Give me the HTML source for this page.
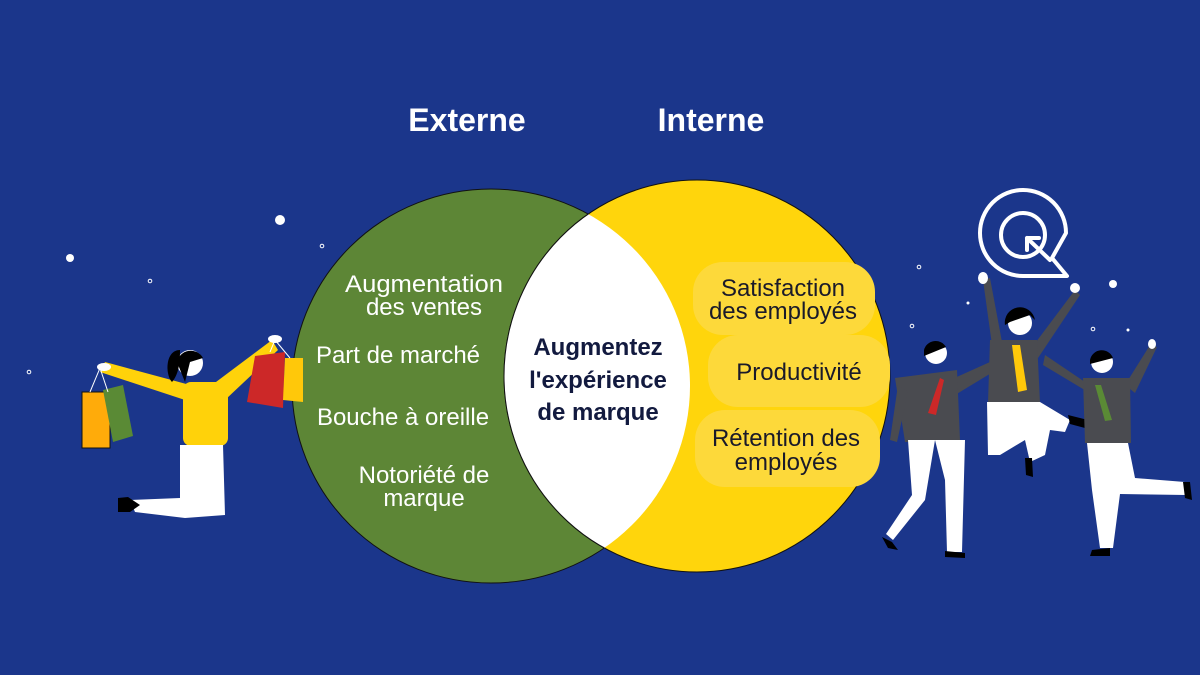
<!DOCTYPE html>
<html><head><meta charset="utf-8"><style>
html,body{margin:0;padding:0;background:#1b368b;}
svg{display:block}
text{font-family:"Liberation Sans",sans-serif}
</style></head><body>
<svg width="1200" height="675" viewBox="0 0 1200 675" xmlns="http://www.w3.org/2000/svg">
<rect width="1200" height="675" fill="#1b368b"/>
<defs>
<clipPath id="g"><ellipse cx="491" cy="386" rx="199" ry="197"/></clipPath>
</defs>
<ellipse cx="491" cy="386" rx="199" ry="197" fill="#5d8636" stroke="#111" stroke-width="1"/>
<ellipse cx="697" cy="376" rx="193" ry="196" fill="#ffd50c" stroke="#111" stroke-width="1"/>
<ellipse cx="697" cy="376" rx="193" ry="196" fill="#fff" stroke="#111" stroke-width="1" clip-path="url(#g)"/>
<!-- pills -->
<rect x="693" y="262" width="182" height="73" rx="30" fill="#fdd93a"/>
<rect x="708" y="335" width="182" height="72" rx="30" fill="#fdd93a"/>
<rect x="695" y="410" width="185" height="77" rx="30" fill="#fdd93a"/>
<!-- titles -->
<text x="467" y="131" font-size="32" font-weight="bold" fill="#fff" text-anchor="middle">Externe</text>
<text x="711" y="131" font-size="32" font-weight="bold" fill="#fff" text-anchor="middle">Interne</text>
<g font-size="24" fill="#fff" text-anchor="middle" transform="translate(0,0)">
<text x="424" y="292" textLength="158" lengthAdjust="spacingAndGlyphs">Augmentation</text>
<text x="424" y="315">des ventes</text>
<text x="398" y="363">Part de marché</text>
<text x="403" y="425">Bouche à oreille</text>
<text x="424" y="483">Notoriété de</text>
<text x="424" y="506">marque</text>
</g>
<g font-size="24" font-weight="bold" fill="#121a3f" text-anchor="middle">
<text x="598" y="355">Augmentez</text>
<text x="598" y="388">l'expérience</text>
<text x="598" y="420">de marque</text>
</g>
<g font-size="24" fill="#1a1a2a" text-anchor="middle">
<text x="783" y="296">Satisfaction</text>
<text x="783" y="319">des employés</text>
<text x="799" y="380">Productivité</text>
<text x="786" y="446">Rétention des</text>
<text x="786" y="470">employés</text>
</g>
<!-- dots -->
<g fill="#fff">
<circle cx="280" cy="220" r="5"/><circle cx="70" cy="258" r="4"/><circle cx="1113" cy="284" r="4"/>
<circle cx="968" cy="303" r="1.5"/><circle cx="1128" cy="330" r="1.5"/>
</g>
<g fill="none" stroke="#fff" stroke-width="1"><circle cx="322" cy="246" r="1.8"/><circle cx="150" cy="281" r="1.8"/><circle cx="29" cy="372" r="1.8"/><circle cx="919" cy="267" r="1.8"/><circle cx="912" cy="326" r="1.8"/><circle cx="1093" cy="329" r="1.8"/></g>
<!-- logo -->
<g fill="none" stroke="#fff" stroke-width="4" stroke-linecap="round" stroke-linejoin="round">
<path d="M1067 276 L1023 276 A43 43 0 1 1 1066 233 L1052 258 Z" fill="none"/>
<circle cx="1023" cy="235" r="22"/>
<path d="M1050 260 L1027 238 M1027 238 L1027 250 M1027 238 L1039 238"/>
</g>
<!-- woman with bags -->
<g>
<path d="M190 385 L105 362 L100 372 L185 400 Z" fill="#ffd20a"/>
<path d="M212 385 L272 340 L278 350 L225 400 Z" fill="#ffd20a"/>
<rect x="183" y="382" width="45" height="64" rx="8" fill="#ffd20a"/>
<path d="M180 445 L223 445 L225 515 L185 518 L135 512 L130 500 L180 498 Z" fill="#fff"/>
<path d="M118 498 L128 497 L140 505 L130 512 L118 512 Z" fill="#000"/>
<circle cx="190" cy="363" r="13" fill="#fff"/>
<path d="M177 362 A14 14 0 0 1 203 358 L190 362 L185 382 Z" fill="#000"/>
<path d="M180 350 C165 350 165 375 172 382 C178 375 180 365 180 350Z" fill="#000"/>
<path d="M82 392 L110 392 L110 448 L82 448 Z" fill="#ffab0a" stroke="#111" stroke-width="1"/>
<path d="M103 390 L123 385 L133 436 L113 442 Z" fill="#5a8a35"/>
<path d="M255 356 L285 352 L283 408 L247 402 Z" fill="#cc2828"/>
<path d="M285 358 L303 358 L303 402 L283 400 Z" fill="#ffc80a"/>
<ellipse cx="104" cy="367" rx="7" ry="4" fill="#fff"/><ellipse cx="275" cy="339" rx="7" ry="4" fill="#fff"/>
<path d="M90 392 L100 368 L108 392 M270 352 L275 340 L290 358" stroke="#fff" stroke-width="1" fill="none"/>
</g>
<!-- men -->
<g>
<path d="M950 380 L990 362 L993 372 L955 395Z" fill="#4a4b50"/>
<path d="M895 378 L957 370 L960 440 L905 442 Z" fill="#4a4b50"/>
<path d="M898 385 L890 440 L897 442 L908 392Z" fill="#4a4b50"/>
<path d="M908 440 L935 440 L925 500 L893 540 L886 534 L912 495 Z" fill="#fff"/>
<path d="M935 440 L965 440 L962 552 L947 552 L945 480 Z" fill="#fff"/>
<path d="M940 378 L944 380 L936 415 L928 413 Z" fill="#cc2828"/>
<circle cx="936" cy="353" r="11" fill="#fff"/><path d="M924 350 A12 12 0 0 1 946 347 L924 356Z" fill="#000"/>
<path d="M882 537 L892 542 L898 550 L888 548Z M945 551 L965 553 L965 558 L945 557Z" fill="#000"/>
<path d="M983 280 L992 345 L1002 342 L990 278Z" fill="#4a4b50"/>
<path d="M1075 290 L1030 350 L1038 358 L1080 295Z" fill="#4a4b50"/>
<path d="M990 340 L1037 340 L1040 403 L988 403 Z" fill="#4a4b50"/>
<path d="M1012 345 L1020 345 L1027 390 L1018 392 Z" fill="#ffc80a"/>
<path d="M987 402 L1040 402 L1070 420 L1065 432 L1050 430 L1045 455 L1030 462 L1025 440 L1000 455 L988 455 Z" fill="#fff"/>
<circle cx="1020" cy="323" r="12" fill="#fff"/><path d="M1005 325 A15 15 0 0 1 1035 320 L1030 315 L1010 322Z" fill="#000"/>
<ellipse cx="983" cy="278" rx="5" ry="6" fill="#fff"/><ellipse cx="1075" cy="288" rx="5" ry="5" fill="#fff"/>
<path d="M1068 415 L1088 420 L1085 428 L1070 424Z M1025 458 L1032 458 L1033 477 L1026 475Z" fill="#000"/>
<path d="M1045 355 L1085 382 L1088 392 L1043 365Z" fill="#4a4b50"/>
<path d="M1125 385 L1150 345 L1157 347 L1135 393Z" fill="#4a4b50"/>
<path d="M1083 378 L1130 378 L1131 443 L1085 443 Z" fill="#4a4b50"/>
<path d="M1095 385 L1101 385 L1112 420 L1105 421 Z" fill="#5a8a35"/>
<path d="M1087 443 L1128 443 L1135 478 L1185 482 L1186 495 L1120 494 L1113 548 L1100 548 L1092 490 Z" fill="#fff"/>
<circle cx="1102" cy="362" r="11" fill="#fff"/><path d="M1090 360 A12 12 0 0 1 1113 358 L1090 364Z" fill="#000"/>
<ellipse cx="1152" cy="344" rx="4" ry="5" fill="#fff"/>
<path d="M1183 482 L1190 482 L1192 500 L1185 498Z M1092 550 L1110 548 L1110 556 L1090 556Z" fill="#000"/>
</g>
</svg>
</body></html>
